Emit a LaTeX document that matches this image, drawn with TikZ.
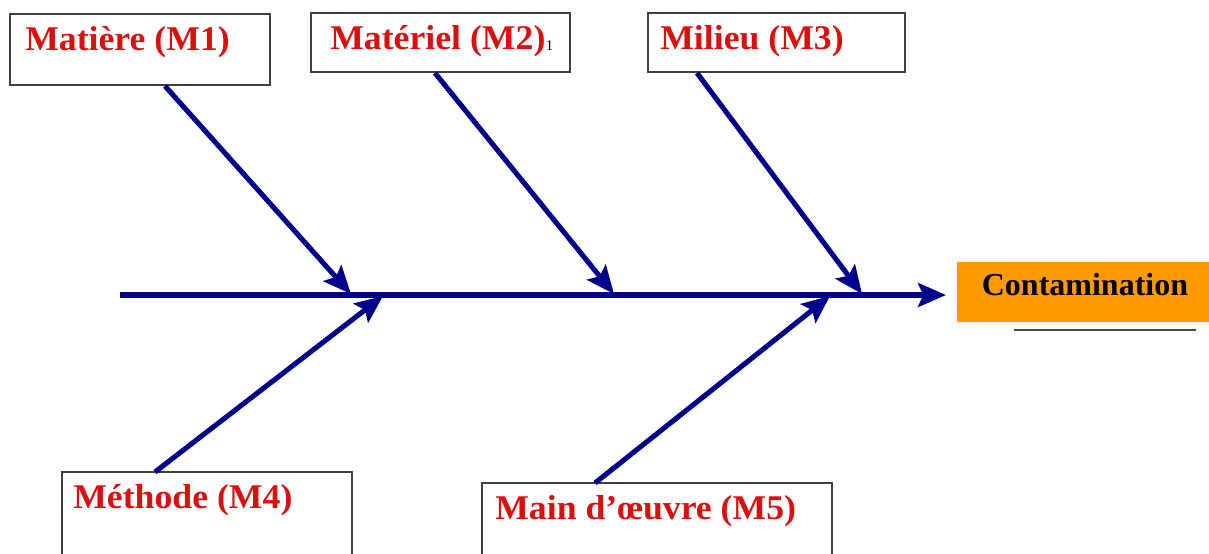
\documentclass[tikz,border=0pt]{standalone}
\usepackage{fontspec}
\setmainfont{Liberation Serif}
\usetikzlibrary{arrows.meta}
\definecolor{navy}{RGB}{0,0,140}
\definecolor{lblred}{RGB}{220,15,15}
\definecolor{orng}{RGB}{255,155,0}
\begin{document}
\begin{tikzpicture}[x=0.75pt,y=-0.75pt,
  mbox/.style={draw=black!75,line width=0.9pt},
  mlabel/.style={anchor=west,inner sep=0pt,text=lblred,font=\fontsize{26}{30}\selectfont\bfseries},
  bone/.style={draw=navy,line width=3.8pt,-{Stealth[length=21pt,width=18pt,inset=4pt]}},
]
\useasboundingbox (0,0) rectangle (1209,553);
% boxes
\draw[mbox] (10,14) rectangle (270,85);
\draw[mbox] (311,13) rectangle (570,72);
\draw[mbox] (648,13) rectangle (905,72);
\draw[mbox] (62,472) rectangle (352,560);
\draw[mbox] (482,483) rectangle (832,560);
\fill[orng] (957,262) rectangle (1209,322);
% labels
\node[mlabel] (m1) at (25,42) {\scalebox{1.03}[1]{Matière (M1)}};
\node[mlabel] (m2) at (330,41) {\scalebox{1.03}[1]{Matériel (M2)}};
\node[anchor=south west,inner sep=0pt,font=\fontsize{11}{12}\selectfont] (one) at ([yshift=-7pt]m2.east) {1};
\node[mlabel] (m3) at (660,41) {\scalebox{1.03}[1]{Milieu (M3)}};
\node[mlabel] (m4) at (73,500) {\scalebox{1.03}[1]{Méthode (M4)}};
\node[mlabel] (m5) at (495,511) {\scalebox{1.03}[1]{Main d’œuvre (M5)}};
\node[anchor=center,inner sep=0pt,font=\fontsize{24}{28}\selectfont\bfseries] (cont) at (1085,285) {Contamination};
% coordinates
\coordinate (s0) at (120,295);
\coordinate (s1) at (946,295);
\coordinate (a1) at (165,86);  \coordinate (b1) at (351,294);
\coordinate (a2) at (435,73);  \coordinate (b2) at (614,294);
\coordinate (a3) at (697,73);  \coordinate (b3) at (862,294);
\coordinate (a4) at (155,472); \coordinate (b4) at (383,296);
\coordinate (a5) at (595,483); \coordinate (b5) at (830,296);
\coordinate (u0) at (1014,330); \coordinate (u1) at (1196,330);
% spine and bones
\draw[bone] (s0) -- (s1);
\draw[bone] (a1) -- (b1);
\draw[bone] (a2) -- (b2);
\draw[bone] (a3) -- (b3);
\draw[bone] (a4) -- (b4);
\draw[bone] (a5) -- (b5);
\draw[black!70,line width=0.8pt] (u0) -- (u1);
\end{tikzpicture}
\end{document}
